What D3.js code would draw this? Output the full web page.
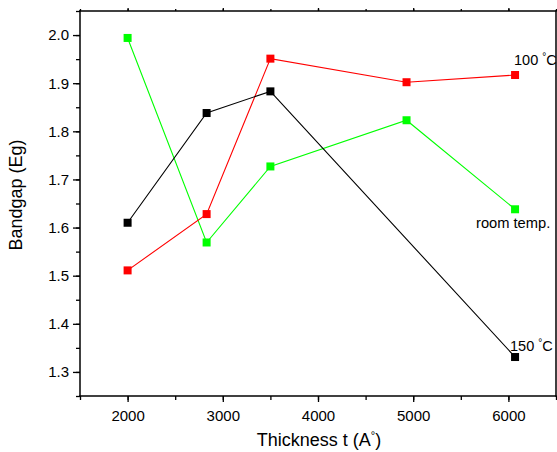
<!DOCTYPE html>
<html><head><meta charset="utf-8">
<script src="https://cdn.jsdelivr.net/npm/d3@7"></script>
<style>body{margin:0;background:#fff}svg{display:block}text{font-family:"Liberation Sans",Arial,sans-serif;fill:#000}</style>
</head><body><svg id="c" width="557" height="452"></svg>
<script>
const thickness = [2000, 2830, 3500, 4930, 6070];
const blackThickness = [2000, 2830, 3500, 6070];
const room = [1.994, 1.569, 1.727, 1.823, 1.638];
const t100 = [1.511, 1.628, 1.951, 1.902, 1.917];
const t150 = [1.610, 1.838, 1.883, 1.331];
const xTicks = [2000, 3000, 4000, 5000, 6000];
const yTicks = [1.3, 1.4, 1.5, 1.6, 1.7, 1.8, 1.9, 2.0];

const svg = d3.select("#c");
const L = 80, R = 556, T = 11, B = 396;
const x = d3.scaleLinear().domain([1500, 6500]).range([L, R]);
const y = d3.scaleLinear().domain([1.25, 2.05]).range([B, T]);

const xMinor = d3.range(1500, 6501, 500);
const yMinor = d3.range(1.25, 2.051, 0.05).map(v => +v.toFixed(2));
const gx = svg.append("g").attr("transform", `translate(0,${B})`)
  .call(d3.axisBottom(x).tickValues(xMinor).tickSize(4).tickFormat(""));
const gx2 = svg.append("g").attr("transform", `translate(0,${B})`)
  .call(d3.axisBottom(x).tickValues(xTicks).tickSize(6).tickPadding(8).tickFormat(d3.format("d")));
const gt = svg.append("g").attr("transform", `translate(0,${T})`)
  .call(d3.axisTop(x).tickValues(xMinor).tickSize(2).tickFormat(""));
const gt2 = svg.append("g").attr("transform", `translate(0,${T})`)
  .call(d3.axisTop(x).tickValues(xTicks).tickSize(3).tickFormat(""));
const gy = svg.append("g").attr("transform", `translate(${L},0)`)
  .call(d3.axisLeft(y).tickValues(yMinor).tickSize(4).tickFormat(""));
const gy2 = svg.append("g").attr("transform", `translate(${L},0)`)
  .call(d3.axisLeft(y).tickValues(yTicks).tickSize(7).tickPadding(4).tickFormat(d3.format(".1f")));
[gx, gx2, gt, gt2, gy, gy2].forEach(g => {
  g.select("path.domain").remove();
  g.selectAll("line").attr("stroke", "#000").attr("stroke-width", 1.3);
  g.selectAll("text").attr("font-size", 15).attr("font-family", "Liberation Sans, Arial, sans-serif");
});
const frame = [[L, B, R, B], [L, T, R, T], [L, T, L, B], [R, T, R, B]];
svg.selectAll(null).data(frame).enter().append("line")
  .attr("x1", d => d[0]).attr("y1", d => d[1]).attr("x2", d => d[2]).attr("y2", d => d[3])
  .attr("stroke", "#000").attr("stroke-width", 1.5).attr("stroke-linecap", "square");

// series
const series = [
  {xs: thickness, ys: room, color: "#00ff00"},
  {xs: thickness, ys: t100, color: "#ff0000"},
  {xs: blackThickness, ys: t150, color: "#000000"}
];
const line = d3.line().x(d => x(d[0])).y(d => y(d[1]));
series.forEach(s => {
  const pts = s.xs.map((v, i) => [v, s.ys[i]]);
  svg.append("path").datum(pts).attr("d", line).attr("fill", "none")
    .attr("stroke", s.color).attr("stroke-width", 1.1);
  svg.selectAll(null).data(pts).enter().append("rect")
    .attr("x", d => x(d[0]) - 4).attr("y", d => y(d[1]) - 4)
    .attr("width", 8).attr("height", 8).attr("fill", s.color);
});

// labels
function degLabel(tx, ty, pre, post) {
  const t = svg.append("text").attr("x", tx).attr("y", ty).attr("font-size", 14.5);
  t.append("tspan").text(pre);
  t.append("tspan").attr("font-size", 10).attr("dy", -5).text("°");
  t.append("tspan").attr("dy", 5).text(post);
  return t;
}
degLabel(514, 65, "100 ", "C");
degLabel(510, 351, "150 ", "C");
svg.append("text").attr("x", 476).attr("y", 228).attr("font-size", 14.7).text("room temp.");

// axis titles
const xt = svg.append("text").attr("x", 319).attr("y", 446).attr("text-anchor", "middle").attr("font-size", 18);
xt.append("tspan").text("Thickness t (A");
xt.append("tspan").attr("font-size", 11).attr("dy", -7).text("°");
xt.append("tspan").attr("dy", 7).text(")");
svg.append("text").attr("transform", "translate(22,195) rotate(-90)").attr("text-anchor", "middle")
  .attr("font-size", 18).text("Bandgap (Eg)");
</script></body></html>
